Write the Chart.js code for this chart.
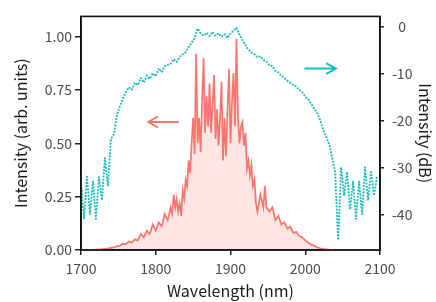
<!DOCTYPE html>
<html lang="en">
<head>
  <meta charset="UTF-8">
  <title>Spectrum</title>
  <script src="https://cdn.jsdelivr.net/npm/chart.js"></script>
  <style>
    body { margin: 0; background: #fff; }
    canvas { display: block; }
  </style>
</head>
<body>
  <canvas id="myChart" width="436" height="302"></canvas>

  <script>
    // linear spectrum (left axis)
    const linWavelength = [1700, 1710, 1720, 1728, 1734, 1740, 1744, 1748, 1752, 1756, 1760, 1764, 1768, 1772, 1776, 1780, 1784, 1788, 1792, 1796, 1800, 1804, 1808, 1812, 1816, 1820, 1822, 1824, 1826, 1828, 1830, 1832, 1834, 1836, 1838, 1840, 1842, 1844, 1846, 1848, 1850, 1852, 1854, 1856, 1858, 1860, 1862, 1864, 1866, 1868, 1870, 1872, 1874, 1876, 1878, 1880, 1882, 1884, 1886, 1888, 1890, 1892, 1894, 1896, 1898, 1900, 1902, 1904, 1906, 1908, 1910, 1912, 1914, 1916, 1918, 1920, 1922, 1924, 1926, 1928, 1930, 1932, 1934, 1936, 1940, 1944, 1946, 1948, 1952, 1956, 1960, 1964, 1968, 1972, 1976, 1980, 1984, 1988, 1992, 1996, 2000, 2004, 2008, 2012, 2016, 2020, 2026, 2032, 2040, 2060, 2100];
    const linIntensity = [0, 0, 0.002, 0.004, 0.006, 0.01, 0.012, 0.018, 0.02, 0.03, 0.028, 0.04, 0.035, 0.05, 0.045, 0.075, 0.06, 0.09, 0.075, 0.12, 0.09, 0.13, 0.11, 0.17, 0.14, 0.2, 0.17, 0.26, 0.2, 0.24, 0.18, 0.22, 0.16, 0.28, 0.24, 0.33, 0.3, 0.42, 0.36, 0.5, 0.62, 0.45, 0.92, 0.5, 0.62, 0.46, 0.7, 0.9, 0.55, 0.72, 0.58, 0.78, 0.55, 0.68, 0.82, 0.52, 0.66, 0.49, 0.62, 0.79, 0.42, 0.62, 0.44, 0.66, 0.85, 0.5, 0.7, 0.83, 0.58, 0.99, 0.62, 0.5, 0.58, 0.6, 0.49, 0.55, 0.38, 0.42, 0.35, 0.4, 0.3, 0.33, 0.22, 0.18, 0.26, 0.2, 0.3, 0.2, 0.18, 0.2, 0.14, 0.16, 0.12, 0.13, 0.1, 0.11, 0.08, 0.085, 0.065, 0.06, 0.045, 0.035, 0.025, 0.02, 0.012, 0.008, 0.004, 0.002, 0, 0, 0];

    // log spectrum in dB (right axis)
    const dbWavelength = [1700, 1704, 1708, 1712, 1716, 1720, 1724, 1728, 1732, 1736, 1740, 1744, 1748, 1752, 1756, 1760, 1764, 1768, 1772, 1776, 1780, 1784, 1788, 1792, 1796, 1800, 1804, 1808, 1812, 1816, 1820, 1824, 1828, 1832, 1836, 1840, 1844, 1848, 1852, 1856, 1860, 1864, 1868, 1872, 1876, 1880, 1884, 1888, 1892, 1896, 1900, 1904, 1908, 1912, 1916, 1920, 1924, 1928, 1932, 1936, 1940, 1944, 1948, 1952, 1956, 1960, 1964, 1968, 1972, 1976, 1980, 1984, 1988, 1992, 1996, 2000, 2004, 2008, 2012, 2016, 2020, 2024, 2028, 2032, 2036, 2040, 2044, 2048, 2052, 2056, 2060, 2064, 2068, 2072, 2076, 2080, 2084, 2088, 2092, 2096];
    const dbIntensity = [-33, -41, -32, -40, -33, -41, -32, -37, -28, -34, -24, -23, -19, -17, -15.5, -14, -13, -13.5, -12, -12.5, -11, -12, -10.5, -11.2, -10, -10.6, -9, -9.8, -8.5, -8.2, -8, -7, -7.6, -6.5, -6, -5.5, -4.5, -3.5, -2.5, -0.5, -1.5, -2, -1.4, -2.1, -1.2, -2, -1.5, -2.2, -1.7, -2.5, -1.5, -1, -0.3, -1.8, -3, -4, -5, -5.6, -6, -6.6, -6.4, -7.2, -7.5, -8.3, -8.5, -9.5, -9.8, -10.5, -11, -11.6, -12, -12.5, -12.8, -13.5, -14, -15, -15.5, -16.5, -17.5, -18.5, -20, -22, -23.5, -25, -28, -31, -45.5, -30, -36, -31, -39, -33, -41, -33, -40, -30, -37, -31, -36, -32];

    const xTicks = [1700, 1800, 1900, 2000, 2100];
    const linTicks = [0, 0.25, 0.5, 0.75, 1];
    const dbTicks = [-40, -30, -20, -10, 0];

    // arrows: [x start, x end, y] with the head at x end
    const linArrow = [1830, 1790, 0.6];
    const dbArrow = [2000, 2041, -9];

    const red = "#F8766D";
    const cyan = "#19BDC2";
    const tickFont = { family: "'Noto Sans CJK JP', 'Noto Sans', sans-serif", size: 14 };
    const titleFont = { family: "'Noto Sans CJK JP', 'Noto Sans', sans-serif", size: 16 };

    const toPoints = (xs, ys) => xs.map((x, i) => ({ x: x, y: ys[i] }));

    // frame around the panel plus the two arrows
    const extras = {
      id: "extras",
      afterDatasetsDraw(chart) {
        const c = chart.ctx;
        const a = chart.chartArea;
        const xs = chart.scales.x;

        function arrow(scaleY, spec, color) {
          const x0 = xs.getPixelForValue(spec[0]);
          const x1 = xs.getPixelForValue(spec[1]);
          const y = scaleY.getPixelForValue(spec[2]);
          const dir = x1 > x0 ? -1 : 1;
          c.save();
          c.strokeStyle = color;
          c.lineWidth = 2;
          c.lineCap = "round";
          c.beginPath();
          c.moveTo(x0, y);
          c.lineTo(x1, y);
          c.moveTo(x1 + dir * 9, y - 5);
          c.lineTo(x1, y);
          c.lineTo(x1 + dir * 9, y + 5);
          c.stroke();
          c.restore();
        }
        arrow(chart.scales.y, linArrow, red);
        arrow(chart.scales.y2, dbArrow, cyan);

        c.save();
        c.strokeStyle = "#111";
        c.lineWidth = 1.6;
        c.strokeRect(a.left, a.top, a.right - a.left, a.bottom - a.top);
        c.restore();
      }
    };

    new Chart(document.getElementById("myChart"), {
      type: "line",
      data: {
        datasets: [
          {
            label: "dB",
            data: toPoints(dbWavelength, dbIntensity),
            yAxisID: "y2",
            borderColor: cyan,
            borderWidth: 2.2,
            borderDash: [0, 3.2],
            borderCapStyle: "round",
            pointRadius: 0,
            fill: false,
            tension: 0,
            order: 0
          },
          {
            label: "linear",
            data: toPoints(linWavelength, linIntensity),
            yAxisID: "y",
            borderColor: red,
            backgroundColor: "rgba(248, 118, 109, 0.18)",
            borderWidth: 1.7,
            pointRadius: 0,
            fill: "origin",
            tension: 0,
            order: 1
          }
        ]
      },
      options: {
        responsive: false,
        animation: false,
        layout: { padding: { top: 9, left: 0, right: 0, bottom: 0 } },
        plugins: { legend: { display: false }, tooltip: { enabled: false } },
        scales: {
          x: {
            type: "linear",
            min: 1700,
            max: 2100,
            afterBuildTicks: (s) => { s.ticks = xTicks.map((v) => ({ value: v })); },
            afterFit: (s) => { s.height = 52; },
            ticks: { font: tickFont, color: "#4D4D4D", padding: 5, maxRotation: 0, callback: (v) => String(v) },
            grid: { drawOnChartArea: false, tickLength: 5, color: "#222", lineWidth: 1.5 },
            border: { color: "#111", width: 1.6 },
            title: { display: true, text: "Wavelength (nm)", font: titleFont, color: "#1a1a1a", padding: { top: 0, bottom: 1 } }
          },
          y: {
            position: "left",
            min: 0,
            max: 1.095,
            afterBuildTicks: (s) => { s.ticks = linTicks.map((v) => ({ value: v })); },
            afterFit: (s) => { s.width = 81; },
            ticks: { font: tickFont, color: "#4D4D4D", padding: 3, callback: (v) => v.toFixed(2) },
            grid: { drawOnChartArea: false, tickLength: 6, color: "#222", lineWidth: 1.5 },
            border: { color: "#111", width: 1.6 },
            title: { display: true, text: "Intensity (arb. units)", font: titleFont, color: "#1a1a1a", padding: { top: 11, bottom: 0 } }
          },
          y2: {
            position: "right",
            min: -47.6,
            max: 2.1,
            afterBuildTicks: (s) => { s.ticks = dbTicks.map((v) => ({ value: v })); },
            afterFit: (s) => { s.width = 56; },
            ticks: { font: tickFont, color: "#4D4D4D", padding: 8, crossAlign: "center", callback: (v) => String(v) },
            grid: { drawOnChartArea: false, tickLength: 4, color: "#222", lineWidth: 1.5 },
            border: { color: "#111", width: 1.6 },
            title: { display: true, text: "Intensity (dB)", font: titleFont, color: "#1a1a1a", padding: { top: 1, bottom: 0 } }
          }
        }
      },
      plugins: [extras]
    });
  </script>
</body>
</html>
